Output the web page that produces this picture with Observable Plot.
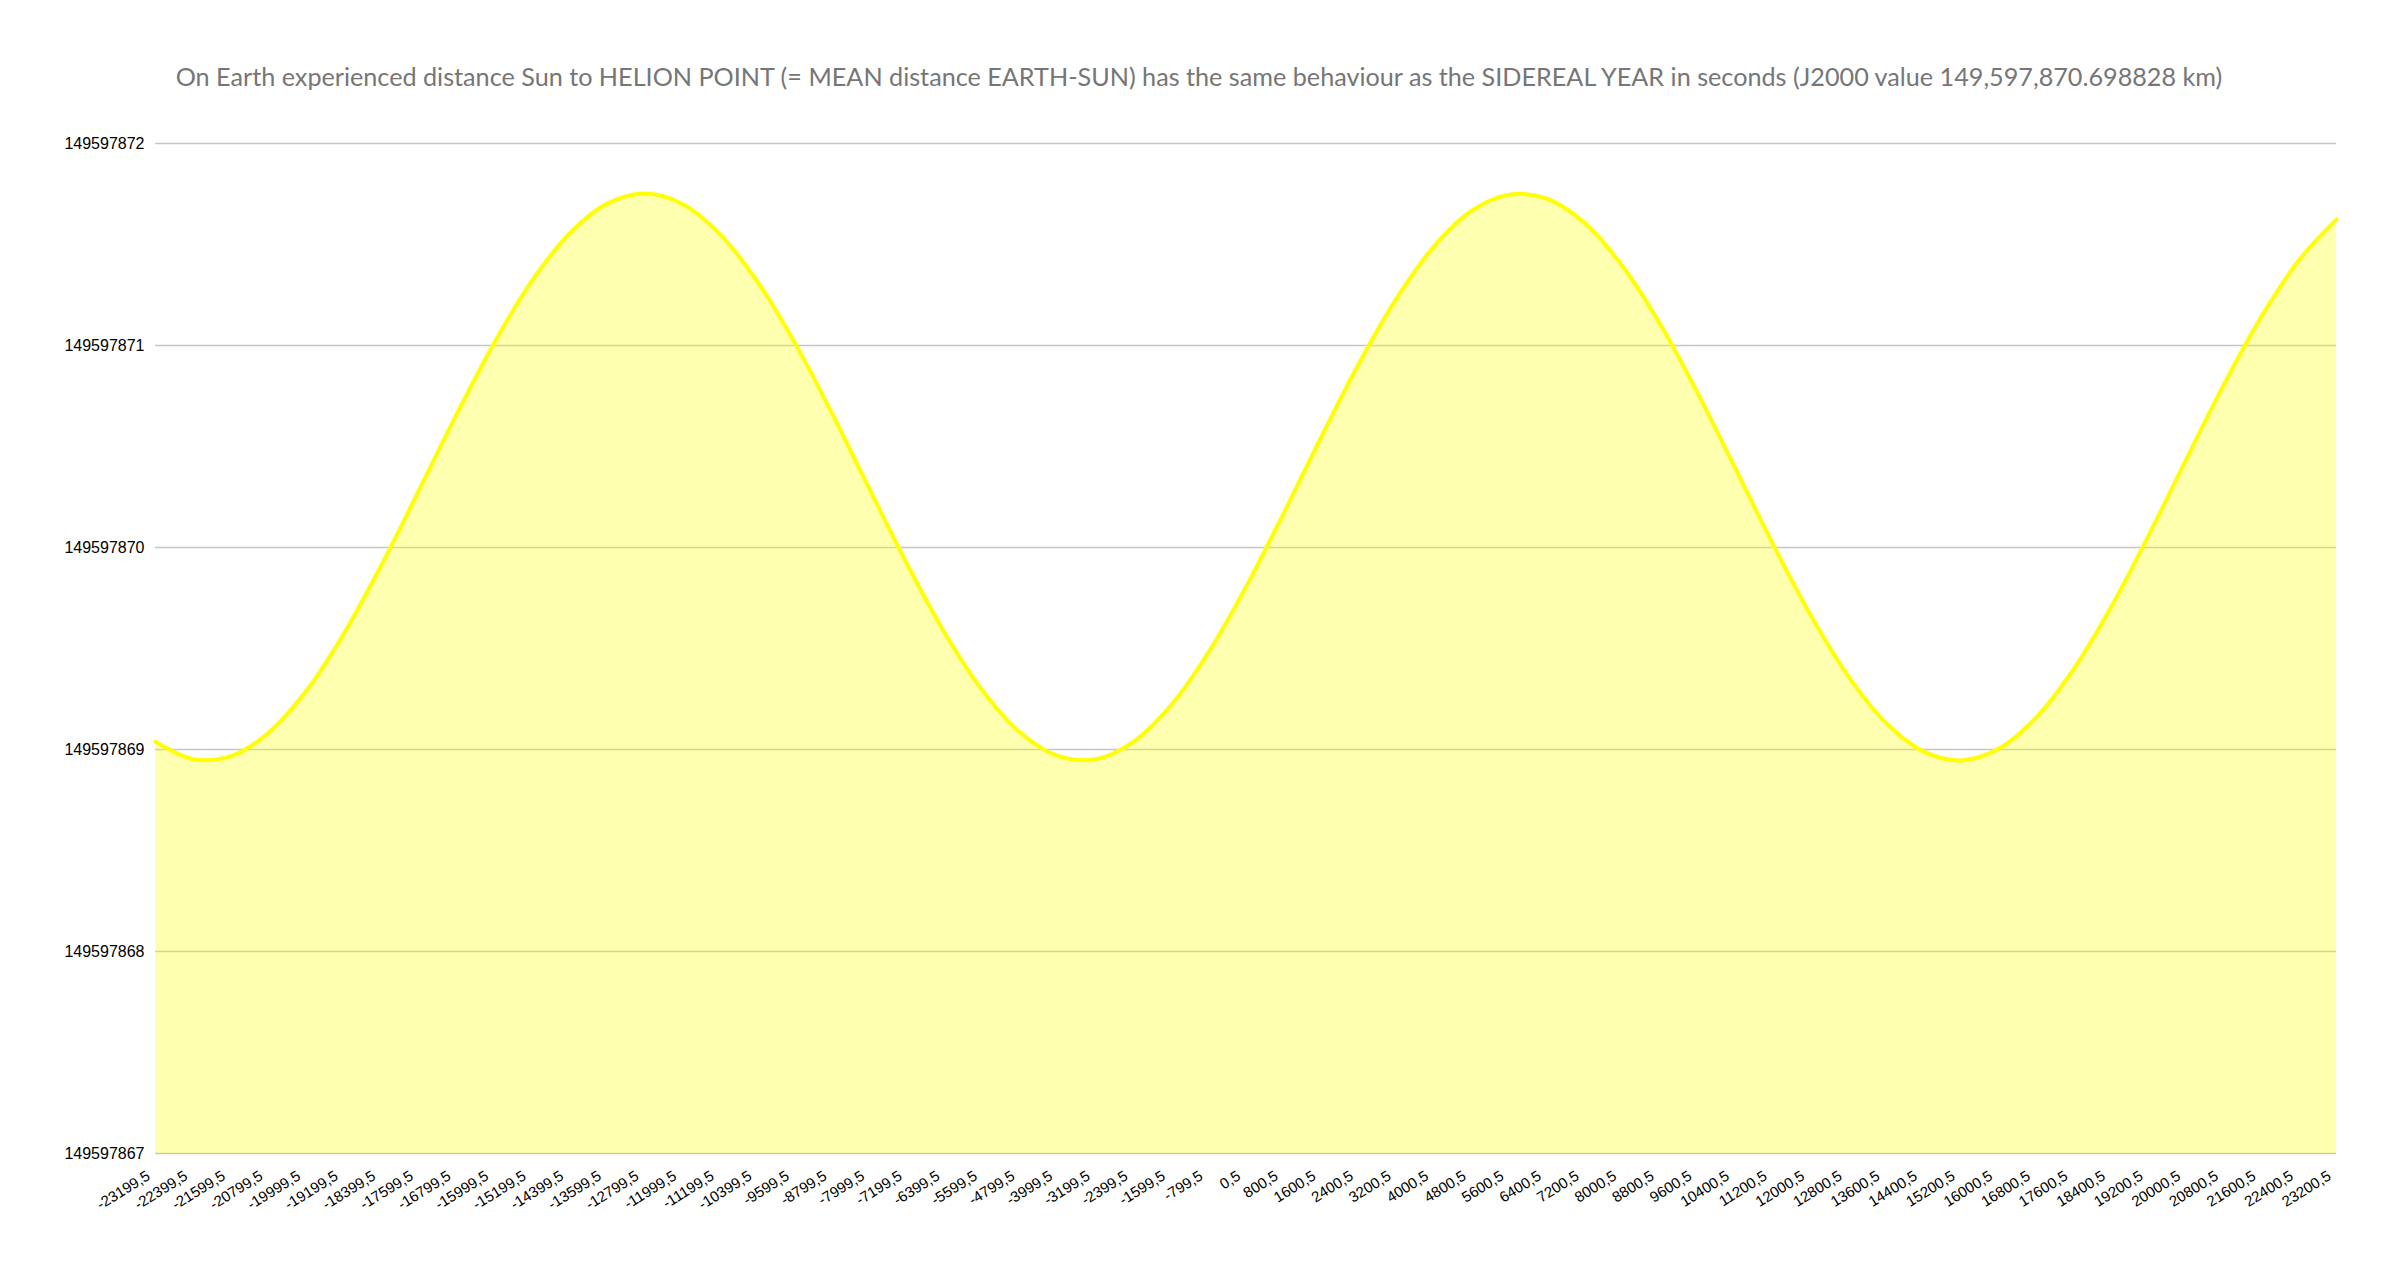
<!DOCTYPE html>
<html>
<head>
<meta charset="utf-8">
<script src="https://cdn.jsdelivr.net/npm/d3@7"></script>
<script src="https://cdn.jsdelivr.net/npm/@observablehq/plot@0.6"></script>
<style>
  body { margin: 0; background: #fff; }
  #title {
    height: 110px; box-sizing: border-box; padding-top: 64px;
    text-align: center; font-family: Lato, "Open Sans", sans-serif; font-size: 25.2px;
    line-height: 24px; color: #767676; white-space: nowrap;
  }
</style>
</head>
<body>
<div id="title">On Earth experienced distance Sun to HELION POINT (= MEAN distance EARTH-SUN) has the same behaviour as the SIDEREAL YEAR in seconds (J2000 value 149,597,870.698828 km)</div>
<div id="chart"></div>
<script>
// Category (year) labels along the x axis
const years = [-23199.5,-22399.5,-21599.5,-20799.5,-19999.5,-19199.5,-18399.5,-17599.5,-16799.5,-15999.5,
  -15199.5,-14399.5,-13599.5,-12799.5,-11999.5,-11199.5,-10399.5,-9599.5,-8799.5,-7999.5,
  -7199.5,-6399.5,-5599.5,-4799.5,-3999.5,-3199.5,-2399.5,-1599.5,-799.5,0.5,
  800.5,1600.5,2400.5,3200.5,4000.5,4800.5,5600.5,6400.5,7200.5,8000.5,
  8800.5,9600.5,10400.5,11200.5,12000.5,12800.5,13600.5,14400.5,15200.5,16000.5,
  16800.5,17600.5,18400.5,19200.5,20000.5,20800.5,21600.5,22400.5,23200.5];

// Distance Sun to helion point (km) at each labelled year
const distanceKm = [149597869.039,149597868.952,149597868.967,149597869.082,149597869.288,149597869.571,149597869.910,149597870.281,149597870.657,149597871.010,
  149597871.317,149597871.552,149597871.701,149597871.752,149597871.702,149597871.553,149597871.318,149597871.013,149597870.660,149597870.284,
  149597869.913,149597869.573,149597869.290,149597869.083,149597868.968,149597868.952,149597869.038,149597869.218,149597869.480,149597869.805,
  149597870.169,149597870.547,149597870.910,149597871.232,149597871.491,149597871.667,149597871.747,149597871.727,149597871.607,149597871.396,
  149597871.110,149597870.768,149597870.396,149597870.021,149597869.669,149597869.367,149597869.135,149597868.992,149597868.946,149597869.002,
  149597869.155,149597869.395,149597869.703,149597870.059,149597870.435,149597870.805,149597871.142,149597871.422,149597871.624];

// Y axis tick values
const yTicks = [149597867,149597868,149597869,149597870,149597871,149597872];

const data = years.map((year, i) => ({year, km: distanceKm[i]}));
const base = yTicks[0];
const fmtX = d => String(d).replace(".", ",");

const chart = Plot.plot({
  width: 2398,
  height: 1123,
  marginLeft: 155,
  marginRight: 62,
  marginTop: 33,
  marginBottom: 80,
  style: {fontFamily: "'Liberation Sans', Arial, sans-serif", fontSize: "16px", color: "#000", background: "#fff", overflow: "visible"},
  x: {type: "linear", domain: [years[0], years[years.length - 1]]},
  y: {domain: [yTicks[0], yTicks[yTicks.length - 1]]},
  marks: [
    Plot.gridY(yTicks, {stroke: "#c6c6c6", strokeOpacity: 1, strokeWidth: 1.5}),
    Plot.areaY(data, {x: "year", y1: () => base, y2: "km", fill: "#ffff00", fillOpacity: 0.31, curve: "catmull-rom"}),
    Plot.lineY(data, {x: "year", y: "km", stroke: "#ffff00", strokeWidth: 4, curve: "catmull-rom"}),
    Plot.axisY(yTicks, {tickSize: 0, tickPadding: 11, tickFormat: "d", label: null, fontSize: 16}),
    Plot.axisX(years, {tickSize: 0, tickPadding: 21, tickRotate: -32, tickFormat: fmtX, label: null, dx: -7, fontSize: 15})
  ]
});
document.getElementById("chart").appendChild(chart);
</script>
</body>
</html>
